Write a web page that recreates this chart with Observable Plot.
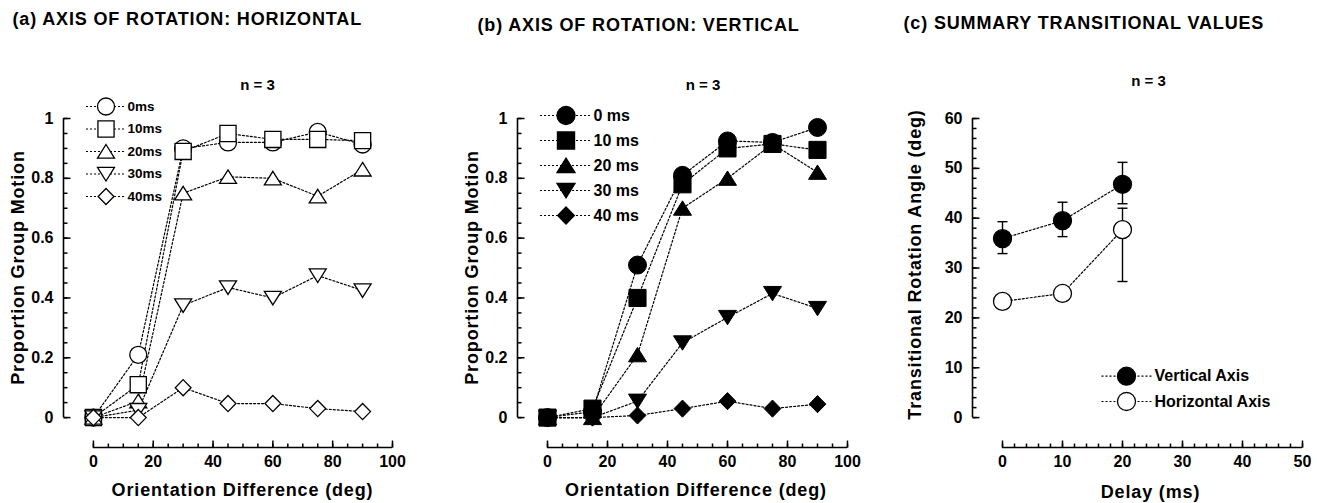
<!DOCTYPE html>
<html>
<head>
<meta charset="utf-8">
<script src="https://cdn.jsdelivr.net/npm/d3@7"></script>
<script src="https://cdn.jsdelivr.net/npm/@observablehq/plot@0.6"></script>
<style>
  html, body { margin: 0; padding: 0; background: #fff; }
  #chart { position: relative; width: 1317px; height: 503px; overflow: hidden; background: #fff; }
</style>
</head>
<body>
<div id="chart"></div>
<script>
// ---------------- DATA ----------------
const orientations = [0, 15, 30, 45, 60, 75, 90];

// (a) axis of rotation: horizontal
const seriesA = ["0ms", "10ms", "20ms", "30ms", "40ms"];
const horiz0ms  = [0, 0.21, 0.90, 0.92, 0.92, 0.955, 0.913];
const horiz10ms = [0, 0.11, 0.89, 0.95, 0.93, 0.93, 0.926];
const horiz20ms = [0, 0.055, 0.75, 0.805, 0.80, 0.74, 0.83];
const horiz30ms = [0, 0.025, 0.375, 0.435, 0.40, 0.475, 0.425];
const horiz40ms = [0, 0.0, 0.10, 0.047, 0.047, 0.03, 0.02];

// (b) axis of rotation: vertical
const seriesB = ["0 ms", "10 ms", "20 ms", "30 ms", "40 ms"];
const vert0ms  = [0, 0.02, 0.51, 0.81, 0.925, 0.92, 0.97];
const vert10ms = [0, 0.03, 0.40, 0.78, 0.90, 0.915, 0.895];
const vert20ms = [0, 0.0, 0.21, 0.70, 0.80, 0.915, 0.82];
const vert30ms = [0, 0.0, 0.055, 0.25, 0.335, 0.415, 0.365];
const vert40ms = [0, 0.0, 0.007, 0.03, 0.055, 0.03, 0.045];

// (c) summary transitional values
const delays = [0, 10, 20];
const seriesC = ["Vertical Axis", "Horizontal Axis"];
const vertAngle  = [35.9, 39.5, 46.8];
const vertLow    = [32.9, 36.3, 42.9];
const vertHigh   = [39.3, 43.2, 51.2];
const horizAngle = [23.3, 24.9, 37.7];
const horizLow   = [null, null, 27.3];
const horizHigh  = [null, null, 42.0];

// ticks
const propTicks   = [0, 0.2, 0.4, 0.6, 0.8, 1];
const orientTicks = [0, 20, 40, 60, 80, 100];
const angleTicks  = [0, 10, 20, 30, 40, 50, 60];
const delayTicks  = [0, 10, 20, 30, 40, 50];

// texts
const titles = ["(a) AXIS OF ROTATION: HORIZONTAL", "(b) AXIS OF ROTATION: VERTICAL", "(c) SUMMARY TRANSITIONAL VALUES"];
const nLabel = "n = 3";
const xTitleAB = "Orientation Difference (deg)";
const yTitleAB = "Proportion Group Motion";
const xTitleC = "Delay (ms)";
const yTitleC = "Transitional Rotation Angle (deg)";
const wideTexts = [...titles, xTitleAB, yTitleAB, xTitleC, yTitleC];

// ---------------- HELPERS ----------------
const FONT = "'Liberation Sans', Arial, Helvetica, sans-serif";
const rOf = s => Math.sqrt(s / Math.PI);
const SYM = {
  circle: {draw(c, s) { const r = rOf(s); c.moveTo(r, 0); c.arc(0, 0, r, 0, 2 * Math.PI); c.closePath(); }},
  square: {draw(c, s) { const h = rOf(s) * 0.95; c.rect(-h, -h, 2 * h, 2 * h); }},
  triUp: {draw(c, s) { const r = rOf(s); c.moveTo(0, -0.82 * r); c.lineTo(r, 0.78 * r); c.lineTo(-r, 0.78 * r); c.closePath(); }},
  triDown: {draw(c, s) { const r = rOf(s); c.moveTo(0, 0.82 * r); c.lineTo(r, -0.78 * r); c.lineTo(-r, -0.78 * r); c.closePath(); }},
  diamond: {draw(c, s) { const r = rOf(s); c.moveTo(0, -0.95 * r); c.lineTo(0.93 * r, 0); c.lineTo(0, 0.95 * r); c.lineTo(-0.93 * r, 0); c.closePath(); }}
};
const symbolsAB = [SYM.circle, SYM.square, SYM.triUp, SYM.triDown, SYM.diamond];
const tickSym = (dx, dy) => ({draw(c) { c.moveTo(0, 0); c.lineTo(dx, dy); }});
const hSeg = half => ({draw(c) { c.moveTo(-half, 0); c.lineTo(half, 0); }});

function axesMarks({xLo, yLo, xTicks, xMinor, yTicks, yMinor}) {
  const st = {stroke: "black", strokeWidth: 1.5, fill: "none"};
  return [
    Plot.ruleX([xLo], {y1: d3.min(yTicks), y2: d3.max(yTicks), stroke: "black", strokeWidth: 1.6}),
    Plot.ruleY([yLo], {x1: d3.min(xTicks), x2: d3.max(xTicks), stroke: "black", strokeWidth: 1.6}),
    Plot.dot(yMinor, {x: xLo, y: d => d, symbol: tickSym(4, 0), ...st}),
    Plot.dot(yTicks, {x: xLo, y: d => d, symbol: tickSym(7, 0), ...st}),
    Plot.dot(xMinor, {x: d => d, y: yLo, symbol: tickSym(0, -4), ...st}),
    Plot.dot(xTicks, {x: d => d, y: yLo, symbol: tickSym(0, -7), ...st}),
    Plot.axisY(yTicks, {anchor: "left", tickSize: 0, tickPadding: 10, tickFormat: d => String(d), fontSize: 16, fontWeight: "bold", label: null}),
    Plot.axisX(xTicks, {anchor: "bottom", tickSize: 0, tickPadding: 8, tickFormat: d => String(d), fontSize: 16, fontWeight: "bold", label: null})
  ];
}

const TXT = {frameAnchor: "top-left", lineAnchor: "middle", text: d => d, fontWeight: "bold"};

function legendMarks(labels, syms, fills, {dx, dy0, step, half, textDx, r, fontSize}) {
  return labels.flatMap((lab, i) => {
    const dy = dy0 + i * step;
    return [
      Plot.dot([lab], {frameAnchor: "top-left", dx, dy, symbol: hSeg(half), stroke: "black", strokeWidth: 1.2, strokeDasharray: "2,2", fill: "none"}),
      Plot.dot([lab], {frameAnchor: "top-left", dx, dy, symbol: syms[i], r, fill: fills[i], stroke: "black", strokeWidth: 1.3}),
      Plot.text([lab], {...TXT, dx: textDx, dy, textAnchor: "start", fontSize})
    ];
  });
}

function textMarks({title, tdx, tdy, ndx, ndy, xTitle, xdx, xdy, yTitle, ydx, ydy}) {
  return [
    Plot.text([title], {...TXT, dx: tdx, dy: tdy, textAnchor: "start", fontSize: 18}),
    Plot.text([nLabel], {...TXT, dx: ndx, dy: ndy, textAnchor: "middle", fontSize: 15}),
    Plot.text([xTitle], {...TXT, dx: xdx, dy: xdy, textAnchor: "middle", fontSize: 18}),
    Plot.text([yTitle], {...TXT, dx: ydx, dy: ydy, textAnchor: "middle", rotate: -90, fontSize: 18})
  ];
}

function place(svg, left) {
  svg.style.position = "absolute";
  svg.style.left = left + "px";
  svg.style.top = "0px";
  d3.select(svg).selectAll("text")
    .filter(function() { return wideTexts.includes(this.textContent); })
    .style("letter-spacing", "0.85px");
  document.getElementById("chart").appendChild(svg);
}

const baseStyle = {fontFamily: FONT, fontWeight: "bold", fontSize: "16px", color: "black", background: "transparent", overflow: "visible"};

function tidy(series, arrays) {
  return series.flatMap((s, i) => orientations.map((x, j) => ({series: s, x, y: arrays[i][j]})));
}

// ---------------- PANEL A ----------------
{
  const rows = tidy(seriesA, [horiz0ms, horiz10ms, horiz20ms, horiz30ms, horiz40ms]);
  const xLo = -10, yLo = -0.1;
  const svg = Plot.plot({
    width: 440, height: 503,
    marginLeft: 63, marginRight: 48, marginTop: 118, marginBottom: 56,
    x: {domain: [xLo, 100]}, y: {domain: [yLo, 1]},
    style: baseStyle,
    marks: [
      ...axesMarks({xLo, yLo, xTicks: orientTicks, xMinor: d3.range(0, 101, 5), yTicks: propTicks, yMinor: d3.range(0, 1.0001, 0.05)}),
      Plot.line(rows, {x: "x", y: "y", z: "series", stroke: "black", strokeWidth: 1.2, strokeDasharray: "2,2"}),
      ...seriesA.map((s, i) => Plot.dot(rows.filter(d => d.series === s), {x: "x", y: "y", symbol: symbolsAB[i], r: 8.5, fill: "white", stroke: "black", strokeWidth: 1.3})),
      ...legendMarks(seriesA, symbolsAB, seriesA.map(() => "white"), {dx: 42.5, dy0: -12, step: 22.5, half: 20, textDx: 64, r: 8.5, fontSize: 13.5}),
      ...textMarks({title: titles[0], tdx: -51, tdy: -99, ndx: 194, ndy: -33, xTitle: xTitleAB, xdx: 179, xdy: 372, yTitle: yTitleAB, ydx: -45, ydy: 149})
    ]
  });
  place(svg, 0);
}

// ---------------- PANEL B ----------------
{
  const rows = tidy(seriesB, [vert0ms, vert10ms, vert20ms, vert30ms, vert40ms]);
  const xLo = -10, yLo = -0.1;
  const svg = Plot.plot({
    width: 430, height: 503,
    marginLeft: 77, marginRight: 23, marginTop: 118, marginBottom: 56,
    x: {domain: [xLo, 100]}, y: {domain: [yLo, 1]},
    style: baseStyle,
    marks: [
      ...axesMarks({xLo, yLo, xTicks: orientTicks, xMinor: d3.range(0, 101, 5), yTicks: propTicks, yMinor: d3.range(0, 1.0001, 0.05)}),
      Plot.line(rows, {x: "x", y: "y", z: "series", stroke: "black", strokeWidth: 1.2, strokeDasharray: "2,2"}),
      ...seriesB.map((s, i) => Plot.dot(rows.filter(d => d.series === s), {x: "x", y: "y", symbol: symbolsAB[i], r: 9, fill: "black", stroke: "black", strokeWidth: 1})),
      ...legendMarks(seriesB, symbolsAB, seriesB.map(() => "black"), {dx: 48.5, dy0: -3, step: 25, half: 26, textDx: 76, r: 9, fontSize: 16}),
      ...textMarks({title: titles[1], tdx: -40, tdy: -93.5, ndx: 185.5, ndy: -33, xTitle: xTitleAB, xdx: 178.5, xdy: 372, yTitle: yTitleAB, ydx: -45, ydy: 149})
    ]
  });
  place(svg, 440);
}

// ---------------- PANEL C ----------------
{
  const rows = [
    ...delays.map((x, j) => ({series: seriesC[0], x, y: vertAngle[j], lo: vertLow[j], hi: vertHigh[j]})),
    ...delays.map((x, j) => ({series: seriesC[1], x, y: horizAngle[j], lo: horizLow[j], hi: horizHigh[j]}))
  ];
  const bars = rows.filter(d => d.lo != null && d.hi != null);
  const fillsC = ["black", "white"];
  const xLo = -5, yLo = -6;
  const svg = Plot.plot({
    width: 447, height: 503,
    marginLeft: 102, marginRight: 15, marginTop: 118, marginBottom: 56,
    x: {domain: [xLo, 50]}, y: {domain: [yLo, 60]},
    style: baseStyle,
    marks: [
      ...axesMarks({xLo, yLo, xTicks: delayTicks, xMinor: d3.range(0, 51, 2), yTicks: angleTicks, yMinor: d3.range(0, 61, 2)}),
      Plot.ruleX(bars, {x: "x", y1: "lo", y2: "hi", stroke: "black", strokeWidth: 1.4}),
      Plot.dot(bars, {x: "x", y: "lo", symbol: hSeg(5), stroke: "black", strokeWidth: 1.4, fill: "none"}),
      Plot.dot(bars, {x: "x", y: "hi", symbol: hSeg(5), stroke: "black", strokeWidth: 1.4, fill: "none"}),
      Plot.line(rows, {x: "x", y: "y", z: "series", stroke: "black", strokeWidth: 1.2, strokeDasharray: "2,2"}),
      ...seriesC.map((s, i) => Plot.dot(rows.filter(d => d.series === s), {x: "x", y: "y", symbol: SYM.circle, r: 9, fill: fillsC[i], stroke: "black", strokeWidth: 1.3})),
      ...legendMarks(seriesC, [SYM.circle, SYM.circle], fillsC, {dx: 154, dy0: 257.7, step: 25.3, half: 25, textDx: 182, r: 9, fontSize: 16}),
      ...textMarks({title: titles[2], tdx: -69, tdy: -95, ndx: 176, ndy: -37, xTitle: xTitleC, xdx: 178, xdy: 374, yTitle: yTitleC, ydx: -57, ydy: 146})
    ]
  });
  place(svg, 870);
}
</script>
</body>
</html>
